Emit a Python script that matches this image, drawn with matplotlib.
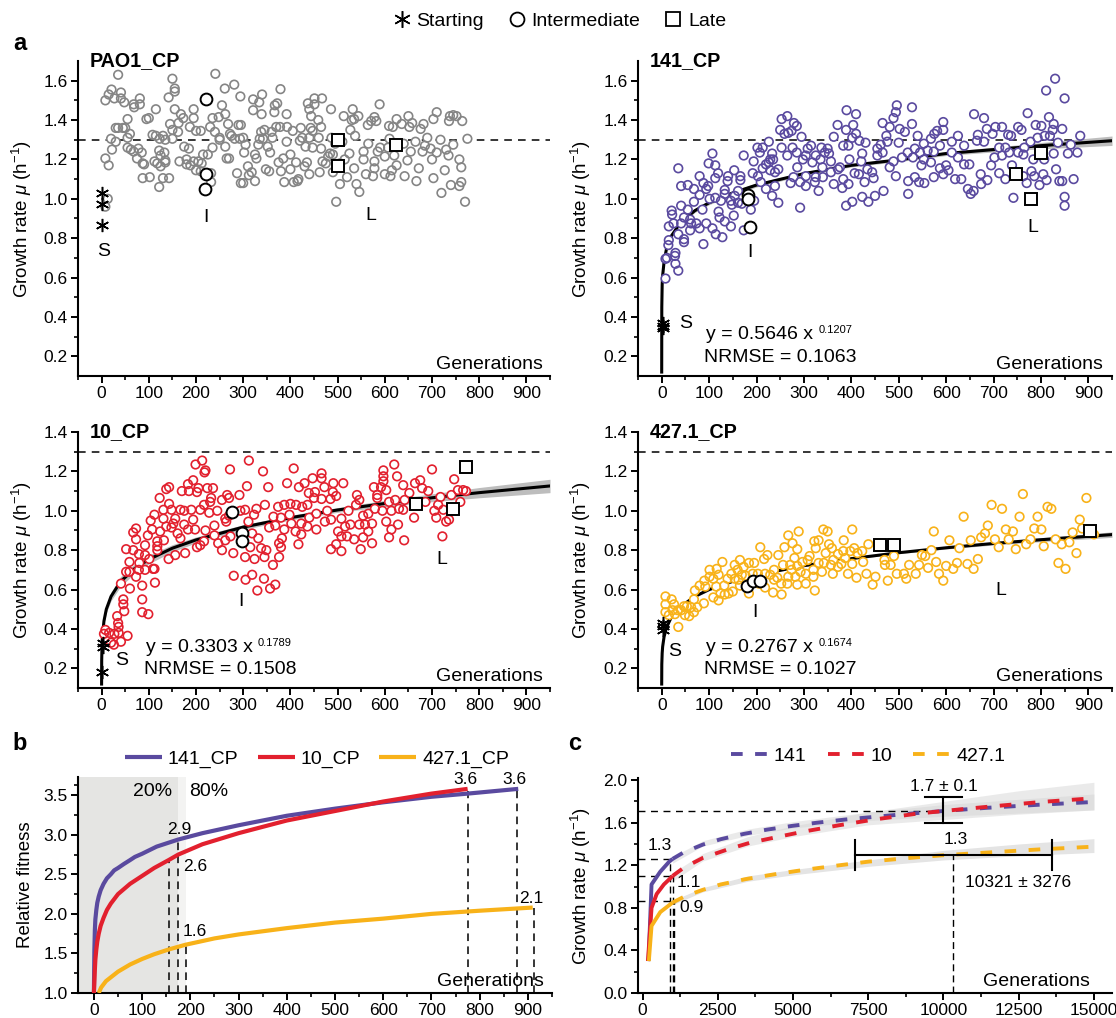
import matplotlib
matplotlib.use('Agg')
import matplotlib.pyplot as plt
from matplotlib.lines import Line2D

plt.rcParams['font.family'] = ['Liberation Sans', 'DejaVu Sans']
plt.rcParams['mathtext.fontset'] = 'custom'
plt.rcParams['mathtext.rm'] = 'Liberation Sans'
plt.rcParams['mathtext.it'] = 'Liberation Sans:italic'
plt.rcParams['mathtext.bf'] = 'Liberation Sans:bold'

W, H = 1116, 1018
GREY, PURPLE, RED, YELLOW = '#858585', '#5a4a9f', '#e2202e', '#f8b219'

# ---- scatter values (generation, growth rate)
pao1_pts = [(35,1.63),(150,1.61),(241,1.635),(281,1.58),(261,1.56),(379,1.557),(155,1.56),(155,1.545),(21,1.555),(41,1.54),(15,1.53),(8,1.5),(27,1.51),(41,1.51),(48,1.49),(81,1.51),(68,1.48),(81,1.48),(69,1.465),(142,1.515),(294,1.52),(321,1.505),(340,1.53),(334,1.49),(372,1.485),(367,1.475),(339,1.43),(321,1.45),(366,1.44),(392,1.43),(437,1.485),(451,1.51),(467,1.51),(451,1.48),(440,1.455),(486,1.455),(444,1.42),(459,1.4),(465,1.365),(589,1.48),(532,1.455),(513,1.42),(544,1.42),(535,1.405),(530,1.4),(578,1.415),(571,1.395),(564,1.375),(582,1.395),(625,1.405),(650,1.42),(710,1.44),(703,1.405),(738,1.42),(745,1.425),(752,1.42),(736,1.395),(764,1.395),(682,1.38),(658,1.385),(636,1.38),(609,1.37),(617,1.365),(652,1.365),(676,1.355),
    (30,1.36),(35,1.36),(45,1.36),(55,1.405),(50,1.36),(20,1.305),(30,1.29),(22,1.25),(8,1.205),(15,1.17),(55,1.31),(60,1.33),(55,1.26),(62,1.25),(68,1.24),(75,1.205),(78,1.255),(85,1.235),(87,1.18),(90,1.175),(87,1.105),(102,1.11),(95,1.405),(100,1.41),(108,1.325),(115,1.32),(118,1.18),(112,1.19),(125,1.165),(125,1.22),(122,1.245),(133,1.235),(135,1.195),(135,1.185),(122,1.06),(130,1.105),(143,1.105),(115,1.455),(130,1.32),(123,1.305),(135,1.3),(145,1.38),(150,1.35),(155,1.455),(150,1.305),(162,1.34),(163,1.385),(168,1.43),(173,1.41),(165,1.19),(175,1.265),(185,1.255),(180,1.2),(180,1.175),(188,1.17),(187,1.365),(195,1.41),(195,1.455),(200,1.345),(210,1.345),(195,1.19),(205,1.19),(210,1.14),(200,1.145),(212,1.18),(215,1.225),(225,1.225),(230,1.365),(235,1.26),(232,1.13),(232,1.085),(235,1.41),(240,1.34),(248,1.415),(250,1.3),(255,1.475),(262,1.43),(250,1.31),(262,1.265),(265,1.205),(270,1.205),(268,1.38),(272,1.33),(275,1.32),(282,1.305),(290,1.375),(295,1.375),(293,1.305),(287,1.13),(295,1.08),(300,1.08),(300,1.31),(302,1.235),(305,1.275),(310,1.165),(312,1.12),(318,1.135),(325,1.225),(325,1.09),(328,1.205),(332,1.275),(335,1.305),(338,1.34),(342,1.305),(345,1.35),(348,1.15),(355,1.14),(352,1.265),(357,1.235),(360,1.34),(362,1.31),(370,1.365),(375,1.185),(378,1.365),(380,1.14),(385,1.205),(387,1.085),(393,1.365),(392,1.29),(400,1.15),(405,1.345),(400,1.225),(407,1.085),(415,1.09),(412,1.185),(422,1.36),(420,1.295),(417,1.1),(425,1.31),(430,1.165),(432,1.265),(435,1.185),(443,1.36),(447,1.26),(440,1.31),(440,1.125),(447,1.345),(460,1.31),(462,1.135),(465,1.255),(468,1.19),(480,1.215),(475,1.18),(484,1.23),(490,1.225),(490,1.135),(487,1.31),(495,1.28),(497,0.985),(505,1.075),(505,1.18),(510,1.29),(520,1.11),(525,1.23),(515,1.2),(527,1.35),(537,1.32),(535,1.155),(540,1.075),(546,1.035),(555,1.24),(555,1.2),(560,1.125),(565,1.28),(578,1.19),(575,1.115),(578,1.155),(585,1.24),(590,1.26),(600,1.125),(600,1.215),(607,1.26),(612,1.115),(615,1.145),(610,1.305),(620,1.22),(625,1.17),(640,1.28),(642,1.115),(648,1.195),(655,1.24),(665,1.29),(667,1.09),(672,1.155),(680,1.24),(685,1.27),(690,1.31),(697,1.255),(700,1.2),(703,1.105),(710,1.235),(718,1.3),(720,1.03),(727,1.145),(730,1.25),(735,1.22),(740,1.07),(745,1.275),(758,1.065),(762,1.085),(758,1.2),(762,1.16),(770,0.985),(775,1.305),(8,0.96),(13,1.0)]

c141_pts = [(35,1.155),(107,1.23),(99,1.18),(113,1.17),(80,1.115),(88,1.08),(55,1.07),(41,1.065),(68,1.05),(98,1.065),(94,1.05),(119,1.13),(113,1.105),(153,1.145),(140,1.115),(139,1.09),(133,1.045),(166,1.115),(166,1.095),(173,1.22),(202,1.26),(213,1.26),(226,1.29),(207,1.235),(233,1.23),(229,1.2),(194,1.19),(226,1.185),(235,1.2),(213,1.155),(220,1.175),(229,1.145),(239,1.135),(246,1.15),(192,1.13),(203,1.115),(209,1.085),(220,1.05),(233,1.015),(246,0.98),(239,1.065),(292,0.955),(253,1.405),(265,1.42),(279,1.385),(285,1.37),(250,1.35),(274,1.345),(267,1.335),(259,1.33),(295,1.315),(253,1.26),(276,1.26),(265,1.22),(285,1.235),(298,1.2),(286,1.16),(278,1.11),(272,1.08),(292,1.085),(304,1.065),(304,1.115),(315,1.27),(308,1.255),(304,1.22),(318,1.185),(325,1.22),(337,1.26),(350,1.255),(353,1.23),(344,1.235),(335,1.2),(339,1.16),(357,1.19),(371,1.375),(363,1.315),(390,1.45),(410,1.43),(404,1.375),(389,1.35),(410,1.33),(402,1.31),(417,1.295),(430,1.285),(383,1.27),(394,1.27),(423,1.23),(421,1.19),(396,1.2),(372,1.15),(376,1.16),(357,1.135),(325,1.11),(340,1.11),(323,1.085),(331,1.04),(363,1.075),(383,1.1),(394,1.075),(381,1.055),(407,1.13),(416,1.125),(428,1.085),(444,1.135),(447,1.105),(434,1.15),(389,0.965),(402,0.985),(423,1.01),(436,0.985),(450,1.015),(468,1.04),(466,1.385),(474,1.32),(481,1.365),(489,1.41),(496,1.475),(494,1.44),(502,1.355),(513,1.34),(528,1.465),(528,1.38),(476,1.29),(462,1.275),(455,1.255),(466,1.235),(455,1.22),(489,1.19),(481,1.16),(494,1.115),(507,1.21),(519,1.235),(530,1.21),(540,1.32),(500,1.285),(553,1.28),(568,1.305),(575,1.33),(581,1.345),(594,1.39),(594,1.35),(587,1.27),(574,1.24),(561,1.245),(545,1.235),(534,1.255),(553,1.2),(548,1.17),(568,1.185),(587,1.155),(600,1.17),(605,1.145),(594,1.125),(574,1.11),(554,1.08),(534,1.11),(543,1.085),(520,1.09),(520,1.025),(612,1.29),(625,1.32),(638,1.27),(612,1.235),(625,1.21),(638,1.175),(649,1.175),(619,1.1),(632,1.1),(646,1.05),(658,1.04),(652,1.025),(673,1.125),(674,1.075),(687,1.095),(695,1.17),(702,1.21),(659,1.43),(680,1.41),(686,1.355),(667,1.325),(665,1.295),(680,1.29),(698,1.33),(704,1.365),(718,1.365),(712,1.26),(725,1.26),(718,1.22),(731,1.325),(737,1.32),(752,1.365),(759,1.35),(733,1.235),(752,1.235),(763,1.225),(765,1.26),(772,1.435),(789,1.375),(801,1.37),(778,1.29),(793,1.31),(808,1.32),(819,1.32),(817,1.415),(827,1.38),(825,1.35),(845,1.355),(811,1.55),(830,1.61),(850,1.51),(836,1.285),(827,1.23),(857,1.23),(863,1.275),(883,1.32),(877,1.235),(869,1.1),(845,1.09),(839,1.09),(832,1.15),(805,1.125),(807,1.2),(784,1.2),(780,1.14),(786,1.115),(812,1.095),(797,1.07),(770,1.08),(763,1.115),(742,1.005),(739,1.17),(725,1.1),(712,1.13),(850,1.01),(850,0.965),
    (8,0.695),(11,0.7),(8,0.595),(15,0.79),(14,0.765),(29,0.725),(28,0.71),(29,0.67),(35,0.635),(47,0.795),(47,0.78),(35,0.82),(41,0.875),(15,0.86),(25,0.875),(21,0.94),(22,0.92),(41,0.965),(47,0.905),(55,0.945),(60,0.895),(62,0.875),(60,0.84),(73,0.875),(80,0.85),(88,0.77),(94,0.875),(107,0.85),(114,0.82),(128,0.805),(120,0.935),(122,0.905),(133,0.885),(146,0.86),(152,0.915),(125,0.99),(146,0.99),(148,0.97),(161,0.98),(68,0.985),(86,0.945),(80,1.02),(101,1.0),(113,1.005),(169,0.975),(188,0.945),(173,0.84),(195,0.99),(184,1.015),(154,1.015),(133,1.025),(161,1.04),(180,1.0)]

c10_pts = [(8,.395),(16,.38),(5,.375),(27,.375),(36,.38),(36,.41),(35,.43),(33,.465),(55,.365),(41,.335),(26,.32),(20,.33),(48,.49),(46,.525),(46,.55),(41,.63),(60,.605),(86,.55),(86,.485),(99,.475),(113,.635),(52,.69),(59,.69),(59,.74),(52,.805),(73,.665),(80,.735),(79,.7),(92,.7),(86,.62),(109,.705),(112,.705),(101,.755),(67,.8),(79,.78),(92,.775),(73,.855),(67,.89),(73,.91),(92,.825),(98,.875),(107,.905),(104,.95),(112,.98),(123,1.065),(137,1.11),(143,1.12),(131,1.005),(143,1.035),(131,.96),(124,.895),(118,.845),(118,.82),(118,.8),(132,.85),(137,.92),(152,.935),(148,.915),(156,.96),(148,1.005),(167,1.005),(170,1.1),(183,1.135),(194,1.155),(185,1.1),(202,1.095),(199,1.235),(213,1.255),(220,1.205),(218,1.195),(205,1.115),(224,1.115),(236,1.115),(232,1.065),(230,1.045),(217,1.03),(209,1.005),(228,.99),(245,1.0),(255,1.055),(266,1.08),(270,1.065),(264,.945),(270,.975),(262,.96),(292,1.08),(308,1.125),(312,1.255),(272,1.21),(342,1.2),(353,1.12),(328,1.01),(323,.98),(304,1.005),(294,1.0),(311,.945),(346,1.03),(374,1.02),(364,.97),(380,.965),(393,1.14),(407,1.215),(418,1.12),(430,1.14),(439,1.09),(452,1.095),(447,1.165),(466,1.19),(466,1.165),(472,1.12),(491,1.14),(490,1.095),(485,1.06),(466,1.06),(450,1.065),(512,1.14),(497,1.075),(541,1.08),(546,1.055),(539,1.03),(597,1.205),(597,1.175),(597,1.15),(620,1.235),(626,1.175),(639,1.13),(577,1.12),(592,1.12),(603,1.105),(584,1.08),(584,1.065),(609,1.045),(622,1.055),(642,1.055),(652,1.09),(664,1.14),(675,1.155),(679,1.115),(692,1.1),(700,1.21),(747,1.16),(741,1.08),(755,1.105),(766,1.105),(772,1.1),(760,1.045),(718,1.07),(713,1.03),(724,1.005),(705,1.0),(709,.965),(730,.945),(736,.955),(722,.87),(686,1.045),(662,.965),(639,1.005),(630,1.01),(614,1.0),(603,.945),(614,.905),(628,.93),(609,.865),(641,.85),(595,1.0),(579,1.01),(565,.985),(554,.975),(573,.935),(558,.93),(565,.895),(573,.835),(554,.865),(549,.805),(535,.855),(546,.93),(523,1.0),(508,.96),(516,.92),(527,.93),(520,.87),(508,.87),(501,.895),(508,.795),(497,.83),(486,.805),(478,1.0),(473,.945),(486,.955),(455,.905),(440,.965),(455,.985),(436,.92),(423,.935),(423,.88),(411,.895),(417,.83),(402,.935),(398,.98),(387,1.03),(400,1.035),(412,1.03),(425,1.02),(436,1.03),(387,.905),(382,.86),(376,.835),(380,.815),(376,.765),(363,.725),(368,.625),(357,.605),(344,.655),(330,.595),(319,.675),(305,.65),(280,.67),(279,.785),(304,.765),(324,.755),(338,.81),(345,.765),(349,.8),(355,.915),(368,.925),(315,.815),(319,.885),(332,.86),(255,.8),(247,.835),(239,.875),(239,.925),(262,.85),(273,.87),(202,.815),(209,.825),(217,.845),(220,.9),(198,.905),(183,.905),(177,.785),(156,.775),(142,.755),(167,.86),(161,.885),(175,.93),(194,.955),(190,1.005),(175,1.0)]

c427_pts = [(8,.565),(21,.55),(8,.525),(26,.525),(8,.485),(23,.495),(34,.495),(15,.47),(28,.475),(47,.515),(41,.495),(49,.47),(58,.465),(68,.485),(35,.41),(53,.515),(62,.51),(75,.51),(89,.53),(68,.55),(70,.595),(80,.62),(90,.645),(92,.615),(101,.7),(116,.705),(109,.655),(128,.74),(120,.675),(109,.56),(120,.545),(115,.615),(132,.62),(133,.575),(141,.58),(154,.725),(165,.75),(173,.715),(184,.735),(195,.735),(147,.68),(154,.655),(139,.655),(150,.59),(160,.7),(169,.675),(184,.58),(208,.815),(216,.755),(223,.775),(218,.68),(205,.63),(218,.61),(229,.675),(237,.7),(244,.66),(235,.585),(253,.575),(246,.775),(256,.725),(259,.815),(267,.875),(276,.835),(286,.805),(280,.76),(271,.725),(274,.7),(265,.63),(286,.625),(289,.895),(297,.74),(293,.69),(304,.63),(323,.595),(320,.7),(308,.75),(322,.845),(331,.85),(341,.905),(350,.895),(325,.81),(353,.83),(359,.81),(346,.785),(362,.75),(342,.735),(338,.69),(357,.725),(361,.68),(384,.85),(383,.795),(398,.795),(402,.905),(406,.81),(379,.73),(393,.68),(402,.73),(411,.66),(425,.74),(432,.68),(445,.625),(451,.665),(423,.795),(436,.83),(470,.75),(471,.725),(483,.725),(490,.77),(496,.68),(477,.645),(511,.68),(516,.655),(522,.725),(536,.68),(543,.725),(549,.775),(556,.77),(569,.8),(574,.895),(579,.74),(562,.71),(585,.68),(594,.645),(600,.72),(607,.85),(615,.705),(623,.735),(628,.81),(637,.97),(645,.73),(652,.85),(658,.705),(667,.755),(674,.865),(682,.885),(688,.925),(696,1.03),(703,.855),(711,.815),(718,1.01),(726,.905),(732,.855),(741,.895),(747,.805),(755,.97),(762,1.085),(769,.83),(778,.855),(786,.91),(793,.97),(801,.905),(806,.82),(814,1.02),(822,1.01),(831,.855),(837,.735),(844,.83),(852,.705),(860,.84),(867,.89),(875,.785),(882,.955),(887,.91),(896,1.065),(912,.88),
    (312,.77),(331,.735),(372,.78),(387,.76),(413,.785),(372,.715),(304,.68),(320,.665),(286,.72),(252,.63),(267,.665),(237,.65),(282,.665),(177,.67),(192,.68),(162,.65),(101,.665),(124,.58),(165,.62),(203,.68)]

# isolate markers of each panel: starting, intermediate, late
pao1_s = [(0,1.03),(0,0.975),(0,0.865)]
pao1_i = [(222,1.505),(222,1.125),(220,1.05)]
pao1_l = [(500,1.3),(500,1.165),(624,1.275)]
c141_s = [(3,0.37),(3,0.355),(3,0.345)]
c141_i = [(183,1.02),(183,1.0),(187,0.855)]
c141_l = [(800,1.235),(747,1.125),(780,1.0)]
c10_s = [(3,.33),(3,.31),(0,.18)]
c10_i = [(276,.995),(298,.885),(298,.845)]
c10_l = [(667,1.035),(745,1.01),(773,1.22)]
c427_s = [(3,.43),(3,.415),(3,.395)]
c427_i = [(180,.62),(193,.645),(208,.645)]
c427_l = [(460,.825),(490,.825),(903,.895)]

# fitted lines
fit_x = [0,0.2,1,2,5,10,20,40,70,100,150,200,300,400,500,600,700,800,950]
fit141 = [.12,.45,.565,.61,.68,.745,.81,.88,.94,.98,1.03,1.07,1.128,1.17,1.198,1.23,1.25,1.27,1.295]
fit10 = [.12,.24,.33,.37,.44,.5,.565,.64,.706,.753,.81,.852,.917,.965,1.004,1.037,1.066,1.092,1.126]
fit427 = [.12,.22,.277,.31,.36,.407,.458,.513,.565,.6,.642,.674,.721,.757,.787,.812,.834,.853,.879]
band141 = [0,0,.004,.004,.005,.006,.007,.008,.009,.01,.01,.01,.008,.008,.009,.01,.012,.016,.024]
band10 = [0,0,.01,.012,.015,.018,.022,.025,.024,.022,.018,.015,.012,.012,.012,.016,.02,.026,.034]
band427 = [0,0,.002,.002,.003,.004,.005,.006,.006,.006,.005,.005,.004,.004,.005,.006,.008,.01,.014]

# panel b
fit141_b_x = [0,1,2,3,5,7,10,14,20,27,35,42,50,62,75,85,100,130,175,225,300,350,400,500,600,700,775,880]
fit141_b_y = [1.0,1.55,1.8,1.93,2.05,2.14,2.22,2.3,2.38,2.45,2.5,2.55,2.58,2.63,2.68,2.72,2.76,2.85,2.94,3.02,3.12,3.18,3.24,3.33,3.41,3.48,3.52,3.58]
fit10_b_x = [0,2,3,5,7,10,14,20,27,35,50,75,100,125,155,175,225,300,400,500,600,700,775]
fit10_b_y = [1.0,1.3,1.42,1.55,1.65,1.75,1.85,1.95,2.05,2.13,2.25,2.38,2.48,2.58,2.68,2.75,2.88,3.02,3.18,3.3,3.42,3.52,3.58]
fit427_b_x = [10,15,25,50,75,100,125,155,190,250,300,400,500,600,700,800,910]
fit427_b_y = [1.0,1.07,1.15,1.27,1.36,1.43,1.49,1.55,1.61,1.69,1.74,1.82,1.89,1.94,2.0,2.04,2.08]
b_drops_x = [155,175,192,775,878,912]
b_drops_y = [2.68,2.95,1.62,3.55,3.58,2.08]

# panel c
s141_x, s141_y = [200,300,590,890,1000], [.3,1.02,1.14,1.235,1.26]
d141_x = [1000,1360,2010,2600,3370,4140,4970,5800,6745,7700,9100,10000,11450,13250,15000]
d141_y = [1.26,1.32,1.395,1.445,1.495,1.535,1.57,1.6,1.63,1.655,1.69,1.71,1.74,1.77,1.795]
s10_x, s10_y = [180,300,470,710,970,1000], [.3,.8,.93,1.02,1.09,1.1]
d10_x = [1000,1360,2010,2840,3550,4380,5325,6510,7700,9120,10000,11480,13250,15000]
d10_y = [1.1,1.175,1.27,1.35,1.41,1.46,1.515,1.575,1.63,1.685,1.71,1.75,1.795,1.83]
s427_x, s427_y = [210,300,590,1000], [.3,.63,.76,.85]
d427_x = [1000,1420,2010,2600,3430,4380,5325,6400,7530,9120,10020,11480,13250,15000]
d427_y = [.85,.91,.97,1.02,1.07,1.115,1.155,1.195,1.235,1.275,1.295,1.32,1.35,1.375]
band_c_x = [1000,2000,3500,5000,7500,10000,12500,15000]
band141_lo = [1.22,1.38,1.48,1.55,1.62,1.66,1.69,1.72]
band141_hi = [1.28,1.43,1.54,1.61,1.70,1.77,1.82,1.87]
band10_lo = [1.05,1.24,1.38,1.47,1.58,1.63,1.68,1.72]
band10_hi = [1.13,1.31,1.47,1.57,1.70,1.80,1.90,1.98]
band427_lo = [.83,.95,1.05,1.11,1.19,1.25,1.29,1.32]
band427_hi = [.87,.99,1.10,1.16,1.25,1.34,1.40,1.45]

def pixel_axes(left, right, top, bottom):
    return fig.add_axes([left / W, 1 - bottom / H, (right - left) / W, (bottom - top) / H])

def style(ax, xlim, ylim, xticks, xminor, yticks, yminor, ylab, label_px):
    ax.set_xlim(xlim)
    ax.set_ylim(ylim)
    ax.set_xticks(xticks)
    ax.set_xticks(xminor, minor=True)
    ax.set_yticks(yticks)
    ax.set_yticklabels(['%.1f' % v for v in yticks])
    ax.set_yticks(yminor, minor=True)
    for s in ['top', 'right']:
        ax.spines[s].set_visible(False)
    for s in ['left', 'bottom']:
        ax.spines[s].set_linewidth(1.5)
    ax.tick_params(which='major', length=5, width=1.4, labelsize=12.5, pad=2.5)
    ax.tick_params(which='minor', length=3, width=1.2)
    ax.set_ylabel(ylab, fontsize=13.5)
    bbox = ax.get_position()
    ax.yaxis.set_label_coords((label_px / W - bbox.x0) / bbox.width, .5)
    ax.patch.set_alpha(0)

MU_LABEL = r'Growth rate $\mu$ (h$^{-1}$)'
xt = list(range(0, 901, 100))
xm = list(range(-50, 951, 100))

def scatter_panel(ax, name, pts, col, s_pts, i_pts, l_pts, gen_x, fx=None, fy=None, fb=None, eq=None):
    ax.axhline(1.3, color='k', lw=1.1, dashes=(5, 4), zorder=1)
    if fx is not None:
        ax.fill_between(fx, [a - b for a, b in zip(fy, fb)], [a + b for a, b in zip(fy, fb)],
                        color='#bdbdbd', lw=0, zorder=1.5)
        ax.plot(fx, fy, color='k', lw=2.2, zorder=2)
    x, y = zip(*pts)
    ax.scatter(x, y, s=38, facecolor='white', edgecolor='none', zorder=3)
    ax.scatter(x, y, s=38, facecolor='none', edgecolor=col, linewidth=1.2, zorder=3.1)
    ax.plot(*zip(*s_pts), ls='', marker=(6, 2, 0), ms=9.5, mew=1.1, color='k', zorder=5)
    ax.plot(*zip(*i_pts), ls='', marker='o', ms=8.5, mew=1.4, mfc='white', mec='k', zorder=5)
    ax.plot(*zip(*l_pts), ls='', marker='s', ms=8.5, mew=1.4, mfc='white', mec='k', zorder=5)
    ax.text(-25, ax.get_ylim()[1], name, fontsize=14.2, fontweight='bold', va='center', ha='left', zorder=6)
    ax.text(gen_x, 0.16, 'Generations', fontsize=14, ha='right', va='center', zorder=6)
    if eq:
        ax.text(94, eq[3], 'y = %s x' % eq[0], fontsize=14, va='center')
        ax.text(331, eq[3] + .025, eq[1], fontsize=8, va='center')
        ax.text(89, .195, 'NRMSE = %s' % eq[2], fontsize=14, va='center')

fig = plt.figure(figsize=(W / 100, H / 100), dpi=100)

# panel a
ax1 = pixel_axes(78, 550, 61, 376)
style(ax1, (-50, 950), (.1, 1.7), xt, xm, [.2, .4, .6, .8, 1.0, 1.2, 1.4, 1.6], [.3, .5, .7, .9, 1.1, 1.3, 1.5], MU_LABEL, 34)
scatter_panel(ax1, 'PAO1_CP', pao1_pts, GREY, pao1_s, pao1_i, pao1_l, 935)
for t, a, b in [('S', 5, .73), ('I', 220, .905), ('L', 570, .915)]:
    ax1.text(a, b, t, fontsize=14, ha='center', va='center')

ax2 = pixel_axes(638, 1112, 61, 376)
style(ax2, (-50, 950), (.1, 1.7), xt, xm, [.2, .4, .6, .8, 1.0, 1.2, 1.4, 1.6], [.3, .5, .7, .9, 1.1, 1.3, 1.5], MU_LABEL, 593)
scatter_panel(ax2, '141_CP', c141_pts, PURPLE, c141_s, c141_i, c141_l, 930, fit_x, fit141, band141, ('0.5646', '0.1207', '0.1063', .31))
for t, a, b in [('S', 50, .365), ('I', 186, .725), ('L', 783, .855)]:
    ax2.text(a, b, t, fontsize=14, ha='center', va='center')

ax3 = pixel_axes(78, 550, 432, 688)
style(ax3, (-50, 950), (.1, 1.4), xt, xm, [.2, .4, .6, .8, 1.0, 1.2, 1.4], [.3, .5, .7, .9, 1.1, 1.3], MU_LABEL, 34)
scatter_panel(ax3, '10_CP', c10_pts, RED, c10_s, c10_i, c10_l, 935, fit_x, fit10, band10, ('0.3303', '0.1789', '0.1508', .305))
for t, a, b in [('S', 42, .24), ('I', 295, .54), ('L', 720, .754)]:
    ax3.text(a, b, t, fontsize=14, ha='center', va='center')

ax4 = pixel_axes(638, 1112, 432, 688)
style(ax4, (-50, 950), (.1, 1.4), xt, xm, [.2, .4, .6, .8, 1.0, 1.2, 1.4], [.3, .5, .7, .9, 1.1, 1.3], MU_LABEL, 593)
scatter_panel(ax4, '427.1_CP', c427_pts, YELLOW, c427_s, c427_i, c427_l, 930, fit_x, fit427, band427, ('0.2767', '0.1674', '0.1027', .305))
for t, a, b in [('S', 28, .285), ('I', 197, .485), ('L', 715, .595)]:
    ax4.text(a, b, t, fontsize=14, ha='center', va='center')

# panel b
ax5 = pixel_axes(78, 552, 777, 993)
style(ax5, (-33, 945), (1.0, 3.73), xt, xm[1:], [1.0, 1.5, 2.0, 2.5, 3.0, 3.5], [1.25, 1.75, 2.25, 2.75, 3.25, 3.625], 'Relative fitness', 34)
ax5.axvspan(-33, 175, color='#e5e5e3', lw=0, zorder=0)
ax5.axvspan(175, 192, color='#f3f3f2', lw=0, zorder=0)
for a, b in zip(b_drops_x, b_drops_y):
    ax5.plot([a, a], [1.0, b], color='k', lw=1.1, dashes=(5, 3.5), zorder=1)
l141, = ax5.plot(fit141_b_x, fit141_b_y, color=PURPLE, lw=3, zorder=2, solid_capstyle='butt')
l10, = ax5.plot(fit10_b_x, fit10_b_y, color=RED, lw=3, zorder=3, solid_capstyle='butt')
l427, = ax5.plot(fit427_b_x, fit427_b_y, color=YELLOW, lw=3, zorder=3, solid_capstyle='butt')
for t, a, b in [('20%', 121, 3.55), ('80%', 237, 3.55), ('3.6', 771, 3.7), ('3.6', 872, 3.7),
                ('2.9', 178, 3.07), ('2.6', 209, 2.6), ('1.6', 210, 1.78), ('2.1', 908, 2.2)]:
    ax5.text(a, b, t, fontsize=14 if '%' in t else 12.5, ha='center', va='center', zorder=6)
ax5.text(933, 1.15, 'Generations', fontsize=14, ha='right', va='center')
ax5.legend([l141, l10, l427], ['141_CP', '10_CP', '427.1_CP'], ncol=3, frameon=False, fontsize=14,
           loc='center', bbox_to_anchor=(.504, 1.083), handlelength=1.9, columnspacing=1.0, handletextpad=.3)

# panel c
ax6 = pixel_axes(638, 1112, 778, 993)
ct = [0, 2500, 5000, 7500, 10000, 12500, 15000]
style(ax6, (-150, 15600), (0, 2.02), ct, [1250, 3750, 6250, 8750, 11250, 13750],
      [0, .4, .8, 1.2, 1.6, 2.0], [.2, .6, 1.0, 1.4, 1.8], MU_LABEL, 593)
ax6.fill_between(band_c_x, band141_lo, band141_hi, color='#d2d2d2', alpha=.45, lw=0, zorder=0.5)
ax6.fill_between(band_c_x, band10_lo, band10_hi, color='#d2d2d2', alpha=.45, lw=0, zorder=0.5)
ax6.fill_between(band_c_x, band427_lo, band427_hi, color='#d2d2d2', alpha=.6, lw=0, zorder=0.5)
for y0, x1 in [(1.71, 10000), (1.26, 900), (1.10, 1000), (.86, 1050)]:
    ax6.plot([-150, x1], [y0, y0], color='k', lw=1, dashes=(5, 4), zorder=1)
for x0, y1 in [(900, 1.26), (1000, 1.10), (1050, .86), (10321, 1.3)]:
    ax6.plot([x0, x0], [0, y1], color='k', lw=1, dashes=(5, 3), zorder=1)
for sx, sy, dx, dy, col in [(s141_x, s141_y, d141_x, d141_y, PURPLE), (s10_x, s10_y, d10_x, d10_y, RED),
                            (s427_x, s427_y, d427_x, d427_y, YELLOW)]:
    ax6.plot(sx, sy, color=col, lw=2.8, zorder=2, solid_capstyle='butt')
    ax6.plot(dx, dy, color=col, lw=2.8, dashes=(3, 3.2), zorder=2)
ax6.plot([10000, 10000], [1.6, 1.84], color='k', lw=1.5, zorder=4)
ax6.plot([9400, 10600], [1.84, 1.84], color='k', lw=1.5, zorder=4)
ax6.plot([9400, 10600], [1.6, 1.6], color='k', lw=1.5, zorder=4)
ax6.plot([7050, 13600], [1.3, 1.3], color='k', lw=1.5, zorder=4)
ax6.plot([7050, 7050], [1.16, 1.44], color='k', lw=1.5, zorder=4)
ax6.plot([13600, 13600], [1.16, 1.44], color='k', lw=1.5, zorder=4)
for t, a, b in [('1.7 \u00b1 0.1', 10000, 1.94), ('1.3', 10400, 1.44), ('10321 \u00b1 3276', 12480, 1.04),
                ('1.3', 570, 1.39), ('1.1', 1540, 1.04), ('0.9', 1630, .8)]:
    ax6.text(a, b, t, fontsize=12.5, ha='center', va='center', zorder=6)
ax6.text(14880, .11, 'Generations', fontsize=14, ha='right', va='center')
c_handles = [Line2D([], [], color=c, lw=2.8, dashes=(3, 3.2)) for c in [PURPLE, RED, YELLOW]]
ax6.legend(c_handles, ['141', '10', '427.1'], ncol=3, frameon=False, fontsize=14, loc='center',
           bbox_to_anchor=(.485, 1.1), handlelength=1.9, columnspacing=1.1, handletextpad=.3)

# marker legend at the top
top_handles = [Line2D([], [], ls='', marker=(6, 2, 0), ms=12, mew=1.1, color='k'),
               Line2D([], [], ls='', marker='o', ms=10, mew=1.3, mfc='white', mec='k'),
               Line2D([], [], ls='', marker='s', ms=10, mew=1.3, mfc='white', mec='k')]
fig.legend(top_handles, ['Starting', 'Intermediate', 'Late'], ncol=3, frameon=False, fontsize=14, loc='center',
           bbox_to_anchor=(559 / W, 1 - 21 / H), handlelength=1.0, handletextpad=.25, columnspacing=1.2)

for t, a, b in [('a', 20, 43), ('b', 20, 743), ('c', 575, 743)]:
    fig.text(a / W, 1 - b / H, t, fontsize=17, fontweight='bold', ha='center', va='center')

fig.savefig('out.png', dpi=100)
